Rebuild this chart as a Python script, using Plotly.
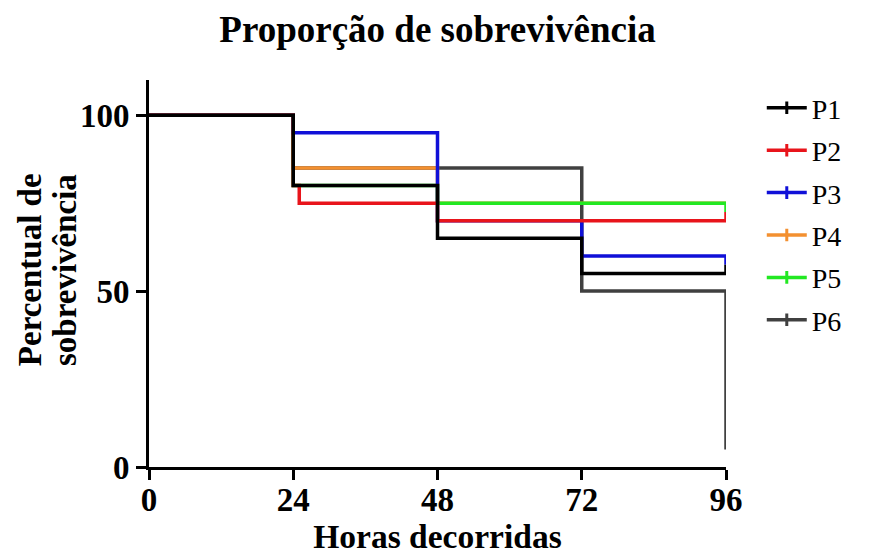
import plotly.graph_objects as go

# ---- data ----
hours_ticks = [0, 24, 48, 72, 96]
pct_ticks = [0, 50, 100]

p1_x = [0, 24, 48, 72, 96]
p1_y = [100, 80, 65, 55, 57.5]

p2_x = [0, 24, 25, 48, 72, 96]
p2_y = [100, 80, 75, 70, 70, 72.5]

p3_x = [0, 24, 48, 72, 96]
p3_y = [100, 95, 70, 60, 57.5]

p4_x = [0, 24, 48, 72, 96]
p4_y = [100, 85, 75, 75, 75]

p5_x = [0, 24, 48, 72, 96]
p5_y = [100, 80, 75, 75, 72.5]

p6_x = [0, 24, 48, 72, 96]
p6_y = [100, 85, 85, 50, 5]

names = ["P1", "P2", "P3", "P4", "P5", "P6"]
colors = ["#000000", "#e8141b", "#1010d8", "#f39030", "#22e822", "#404040"]
series = {
    "P1": (p1_x, p1_y),
    "P2": (p2_x, p2_y),
    "P3": (p3_x, p3_y),
    "P4": (p4_x, p4_y),
    "P5": (p5_x, p5_y),
    "P6": (p6_x, p6_y),
}
# drawing order (bottom -> top)
draw_order = ["P6", "P4", "P5", "P3", "P2", "P1"]

FONT = "Liberation Serif"
fig = go.Figure()

for nm in draw_order:
    x, y = series[nm]
    c = colors[names.index(nm)]
    fig.add_trace(go.Scatter(
        x=x, y=y, mode="lines", line=dict(shape="hv", color=c, width=3.5),
        name=nm, showlegend=False, hoverinfo="skip"))

# legend entries (P1..P6)
for nm, c in zip(names, colors):
    fig.add_trace(go.Scatter(
        x=[None], y=[None], mode="lines+markers", name=nm,
        line=dict(color=c, width=3.5),
        marker=dict(symbol="line-ns", size=9, line=dict(color=c, width=3)),
        legendgroup=nm))

fig.update_layout(
    width=869, height=559,
    paper_bgcolor="white", plot_bgcolor="white",
    margin=dict(l=141, r=151, t=72, b=100, autoexpand=False),
    title=dict(text="Proporção de sobrevivência", x=0.4943, xanchor="center",
               y=1 - 21 / 559, yanchor="middle",
               font=dict(family=FONT, size=37, color="black", weight="bold")),
    legend=dict(x=1.062, y=0.992, xanchor="left", yanchor="top",
                font=dict(family=FONT, size=28, color="black"),
                tracegroupgap=3, itemwidth=40, bgcolor="rgba(0,0,0,0)"),
    showlegend=True,
    annotations=[
        dict(text="Percentual de", xref="paper", yref="paper",
             x=-0.206, y=0.509, xanchor="center", yanchor="middle",
             textangle=-90, showarrow=False,
             font=dict(family=FONT, size=33, color="black", weight="bold")),
        dict(text="sobrevivência", xref="paper", yref="paper",
             x=-0.1456, y=0.509, xanchor="center", yanchor="middle",
             textangle=-90, showarrow=False,
             font=dict(family=FONT, size=33, color="black", weight="bold")),
    ],
)

fig.update_xaxes(
    range=[0, 96], tickvals=hours_ticks, ticktext=[str(v) for v in hours_ticks],
    showgrid=False, zeroline=False, showline=True, linecolor="black", linewidth=3,
    ticks="outside", ticklen=10, tickwidth=3, tickcolor="black", automargin=False,
    ticklabelstandoff=-9,
    tickfont=dict(family=FONT, size=33, color="black", weight="bold"),
    title=dict(text="Horas decorridas", standoff=4,
               font=dict(family=FONT, size=33.5, color="black", weight="bold")),
)
fig.update_yaxes(
    range=[0, 110], tickvals=pct_ticks, ticktext=[str(v) for v in pct_ticks],
    showgrid=False, zeroline=False, showline=True, linecolor="black", linewidth=3,
    ticks="outside", ticklen=10, tickwidth=3, tickcolor="black", automargin=False,
    tickfont=dict(family=FONT, size=33, color="black", weight="bold"),
)

fig.write_html("out.html")
